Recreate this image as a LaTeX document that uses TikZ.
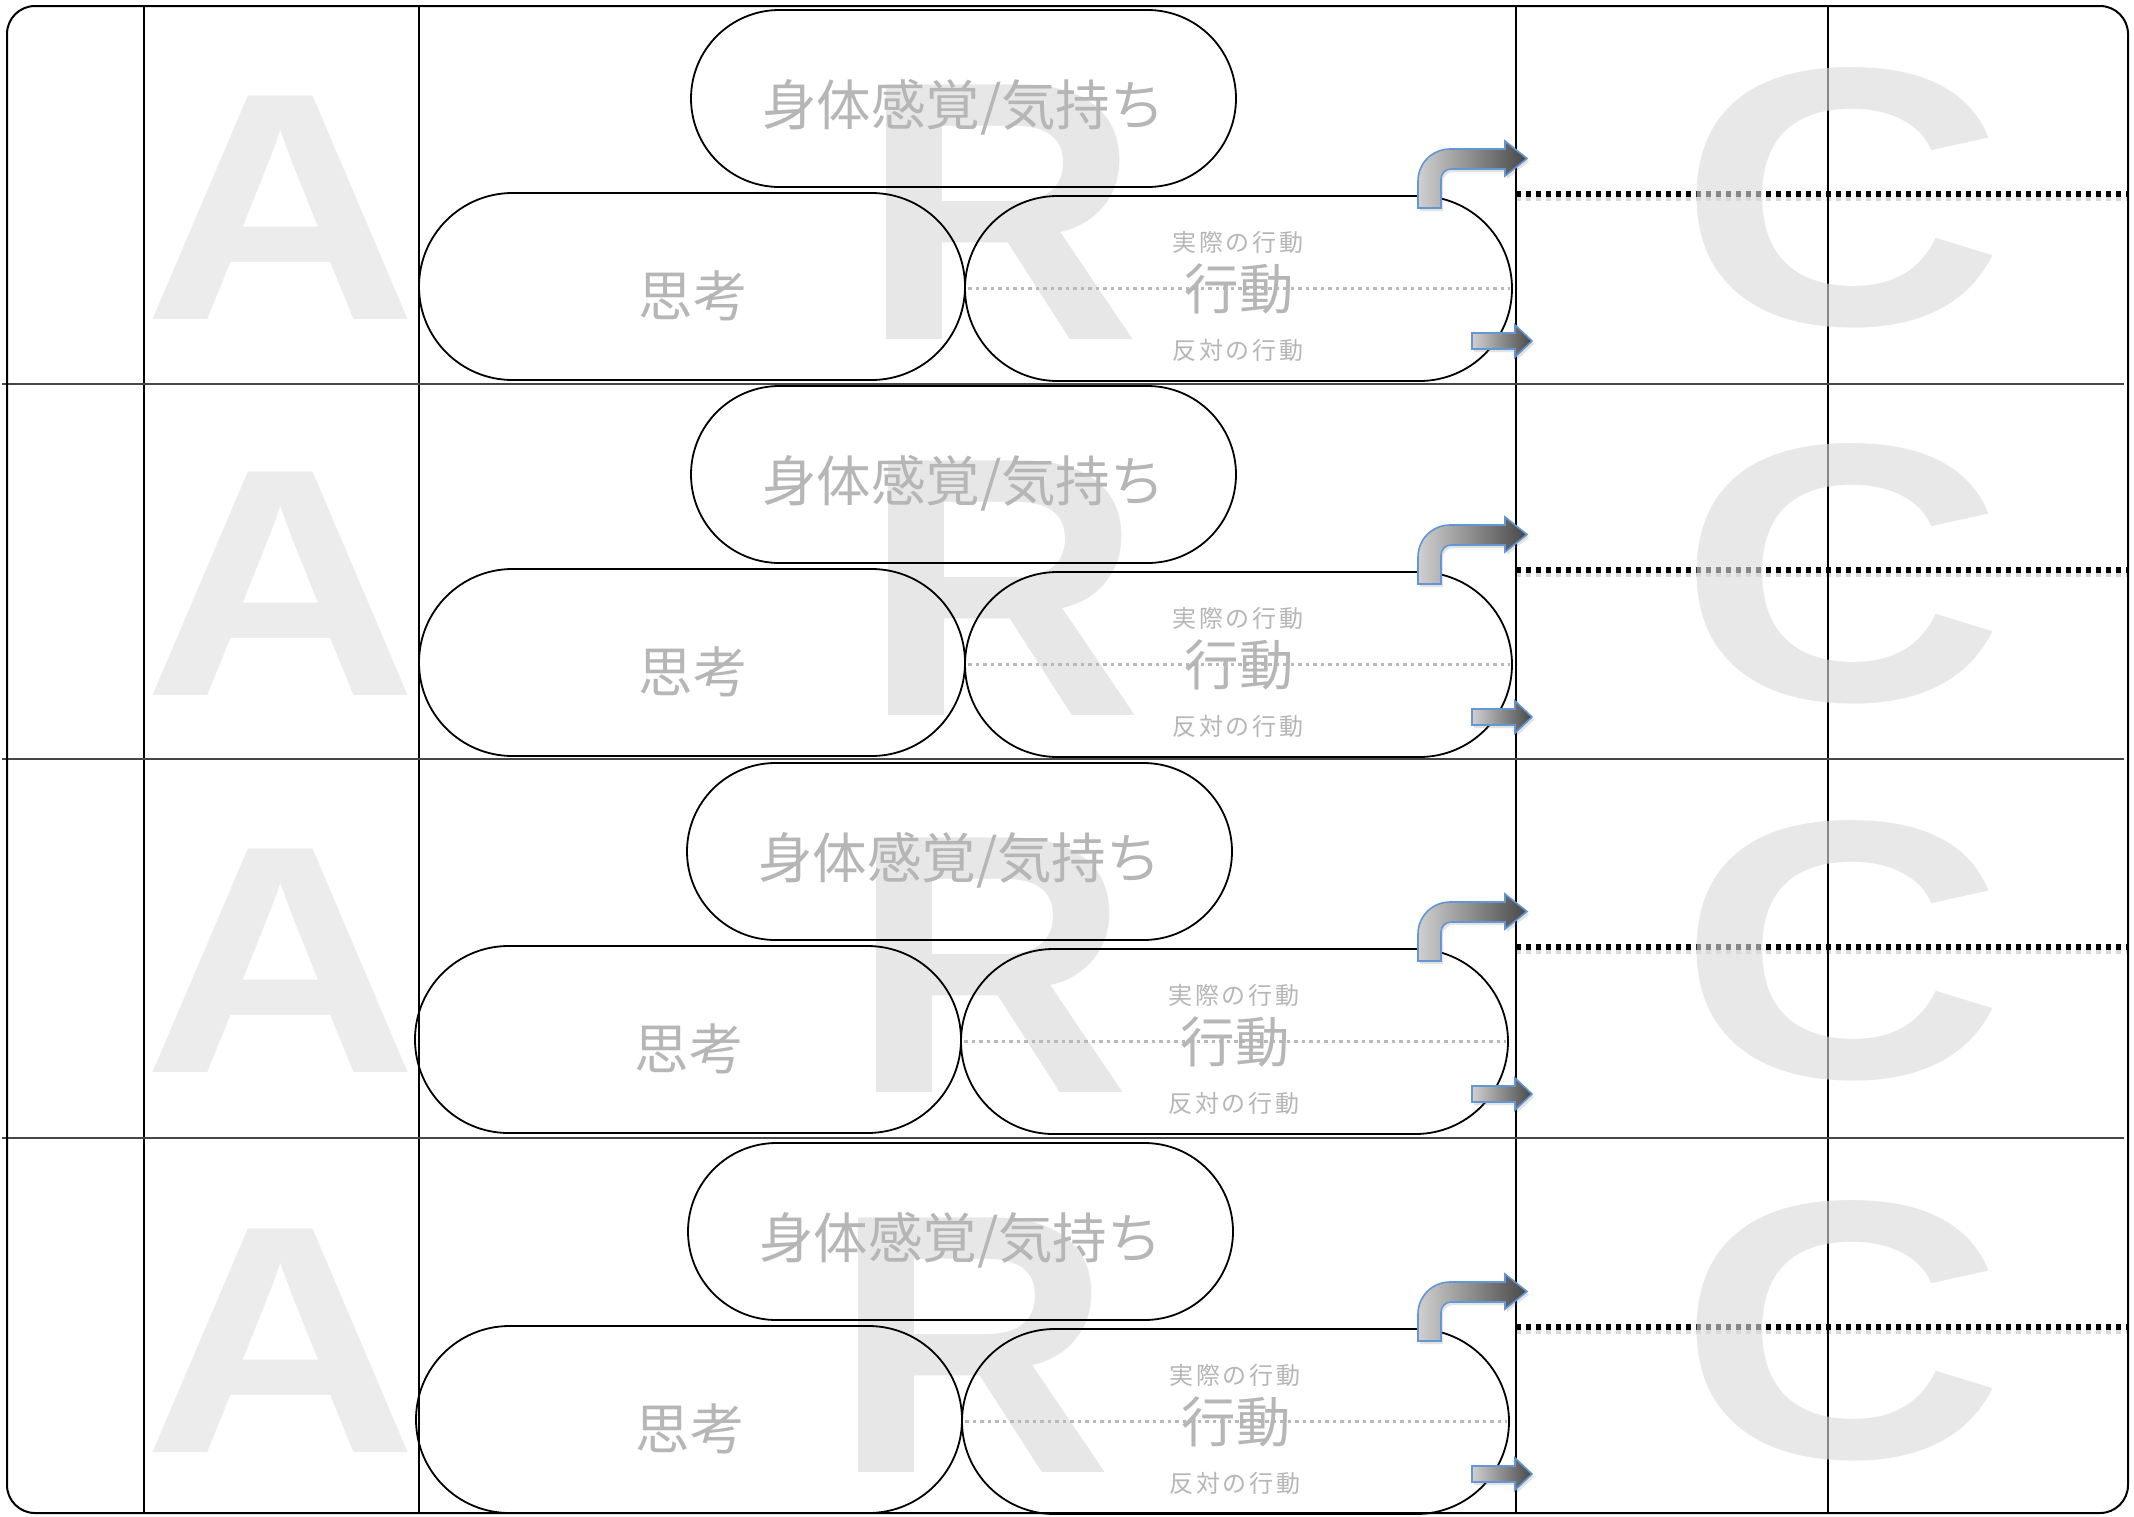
\documentclass[tikz,border=0pt]{standalone}
\usepackage{fontspec}
\usepackage{graphicx}
\usetikzlibrary{shadows}
\newfontfamily\cjk{Noto Sans CJK JP}
\newfontfamily\cjksp{Noto Sans CJK JP}[LetterSpace=12]
\newfontfamily\letterfont{Liberation Sans}
\definecolor{txtgrey}{RGB}{182,182,182}
\definecolor{lettergrey}{RGB}{236,236,236}
\definecolor{rgrey}{RGB}{231,231,231}
\definecolor{cgrey}{gray}{0.855}
\definecolor{arrowblue}{RGB}{98,150,212}
\definecolor{arrowlight}{RGB}{208,208,208}
\definecolor{arrowdark}{RGB}{72,72,72}
\definecolor{rowline}{RGB}{70,70,70}
\definecolor{dotgrey}{RGB}{185,185,185}
\tikzset{
  pill/.style 2 args={draw=black, line width=1.8pt, rectangle, inner sep=0pt,
    minimum width=#1pt, minimum height=#2pt, rounded corners=#2*0.5pt},
  bigletter/.style={inner sep=0pt, outer sep=0pt},
  bigtxt/.style={text=txtgrey, inner sep=0pt, font=\cjk\fontsize{54.5}{54.5}\selectfont},
  smalltxt/.style={text=txtgrey, inner sep=0pt, font=\cjksp\fontsize{24}{24}\selectfont},
  blackdot/.style={line width=5.5pt, dash pattern=on 5pt off 5pt, black},
  dotshadow/.style={line width=6pt, dash pattern=on 5pt off 5pt, black, opacity=0.15},
  greydot/.style={dotgrey, line width=3.5pt, dash pattern=on 3.5pt off 4pt},
  arrowsty/.style={draw=arrowblue, line width=1.6pt, left color=arrowlight,
    right color=arrowdark, line join=miter,
    drop shadow={shadow xshift=2pt, shadow yshift=-3pt, opacity=0.22}},
  gridline/.style={black, line width=1.5pt},
  rowsep/.style={rowline, line width=2pt}
}
\begin{document}
\begin{tikzpicture}[x=1pt,y=-1pt]
\useasboundingbox (0,0) rectangle (2134,1516);
\fill[white] (0,0) rectangle (2134,1516);

% background letters A and R
\foreach \i/\dy/\rx in {1/0/0,2/376/2,3/753/-10,4/1133/-28}{
  \node[bigletter, text=lettergrey] (A\i) at (281,208+\dy)
    {\letterfont\bfseries\fontsize{325}{325}\selectfont\scalebox{1.17}[1]{A}};
  \node[bigletter, text=rgrey] (R\i) at (1001+\rx,212+\dy)
    {\letterfont\bfseries\fontsize{370}{370}\selectfont\scalebox{1.05}[1]{R}};
}

% grid
\foreach \gx in {144,419,1516,1828}{
  \draw[gridline] (\gx,6) -- (\gx,1513);
}
\foreach \gy in {384,759,1138}{
  \draw[rowsep] (2,\gy) -- (2124,\gy);
}
\draw[line width=2pt, rounded corners=28pt] (7,6) rectangle (2128,1513);

% rows
\foreach \i/\dx/\dy in {1/0/0,2/0/376,3/-4/753,4/-3/1133}{
  \begin{scope}[shift={(\dx,\dy)}]
    \node[pill={545}{177}] (top\i) at (963.5,98.5) {};
    \node[pill={546}{187}] (think\i) at (692,286.5) {};
    \node[pill={547}{185}] (actpill\i) at (1238.5,288.5) {};
    \draw[greydot] ([xshift=4pt]actpill\i.west) -- ([xshift=-3pt]actpill\i.east);
    \node[bigtxt] (body\i) at (963.5,107) {身体感覚/気持ち};
    \node[bigtxt] (thinktxt\i) at (693,296) {思考};
    \node[bigtxt] (acttxt\i) at (1239,289) {行動};
    \node[smalltxt] (real\i) at (1238,242.5) {実際の行動};
    \node[smalltxt] (opp\i) at (1238,350) {反対の行動};
  \end{scope}
  \begin{scope}[shift={(0,\dy)}]
    \coordinate (ds\i) at (1516,194);
    \coordinate (de\i) at (2127,194);
    \draw[dotshadow] ([yshift=-4pt]ds\i) -- ([yshift=-4pt]de\i);
    \draw[blackdot] (ds\i) -- (de\i);
    \path[arrowsty] (1418,208) -- (1418,181)
      .. controls (1418,163.3) and (1432.3,149) .. (1450,149)
      -- (1505,149) -- (1505,141) -- (1527,158.5) -- (1505,176) -- (1505,169)
      -- (1451,169) .. controls (1445.5,169) and (1441,173.5) .. (1441,179)
      -- (1441,208) -- cycle;
    \path[arrowsty] (1472,333) -- (1515,333) -- (1515,325) -- (1532,341)
      -- (1515,357) -- (1515,349) -- (1472,349) -- cycle;
  \end{scope}
}

% C letters on top, semi-transparent
\foreach \i/\dy in {1/0,2/376,3/753,4/1133}{
  \node[bigletter, text=cgrey, text opacity=0.62] (C\i) at (1841.5,198+\dy)
    {\letterfont\bfseries\fontsize{368}{368}\selectfont\scalebox{1.23}[1]{C}};
}
\end{tikzpicture}
\end{document}
